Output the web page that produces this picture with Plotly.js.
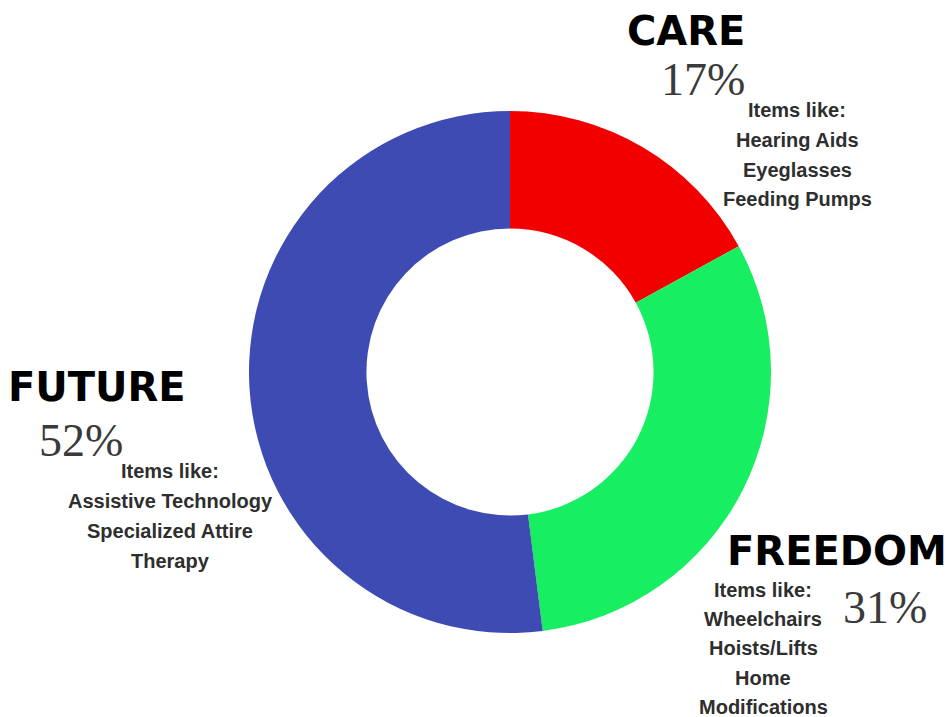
<!DOCTYPE html>
<html>
<head>
<meta charset="utf-8">
<script src="https://cdn.plot.ly/plotly-3.0.1.min.js"></script>
<style>html,body{margin:0;padding:0;background:#fff;}#chart{width:948px;height:717px;}</style>
</head>
<body>
<div id="chart"></div>
<script>
// Data
const categories = ["CARE", "FREEDOM", "FUTURE"];
const shares = [17, 31, 52];
const sliceColors = ["#F20000", "#17EE62", "#3D4BB3"];
const pctLabels = ["17%", "31%", "52%"];
const careItems = ["Items like:", "Hearing Aids", "Eyeglasses", "Feeding Pumps"];
const freedomItems = ["Items like:", "Wheelchairs", "Hoists/Lifts", "Home", "Modifications"];
const futureItems = ["Items like:", "Assistive Technology", "Specialized Attire", "Therapy"];

const W = 948, H = 717;
const px = x => x / W;
const py = y => 1 - y / H;

// layout positions (pixels)
const cx = 510, cy = 372, R = 261;
const headPos = {CARE: [686, 31], FREEDOM: [837, 551], FUTURE: [97, 387]};
const pctPos = {CARE: [703, 80], FREEDOM: [885, 607], FUTURE: [81, 440]};
const itemPos = {CARE: [797, 110], FREEDOM: [763, 590], FUTURE: [170, 471]};
const itemGap = {CARE: 29.8, FREEDOM: 29.2, FUTURE: 30};
const itemLists = {CARE: careItems, FREEDOM: freedomItems, FUTURE: futureItems};

const annotations = [];
categories.forEach((c, i) => {
  annotations.push({
    text: c, x: px(headPos[c][0]), y: py(headPos[c][1]), xref: "paper", yref: "paper",
    xanchor: "center", yanchor: "middle", showarrow: false,
    font: {family: "DejaVu Sans", size: 40, color: "#000", weight: 700}
  });
  annotations.push({
    text: pctLabels[i], x: px(pctPos[c][0]), y: py(pctPos[c][1]), xref: "paper", yref: "paper",
    xanchor: "center", yanchor: "middle", showarrow: false,
    font: {family: "Liberation Serif", size: 46, color: "#3a3a3a"}
  });
  itemLists[c].forEach((t, k) => {
    annotations.push({
      text: t, x: px(itemPos[c][0]), y: py(itemPos[c][1] + k * itemGap[c]), xref: "paper", yref: "paper",
      xanchor: "center", yanchor: "middle", showarrow: false,
      font: {family: "Liberation Sans", size: 20, color: "#2e2e2e", weight: 700}
    });
  });
});

const trace = {
  type: "pie",
  labels: categories,
  values: shares,
  marker: {colors: sliceColors, line: {width: 0}},
  hole: 0.55,
  sort: false,
  direction: "clockwise",
  rotation: 0,
  textinfo: "none",
  hoverinfo: "label+percent",
  domain: {x: [(cx - R) / W, (cx + R) / W], y: [(H - cy - R) / H, (H - cy + R) / H]}
};

Plotly.newPlot("chart", [trace], {
  width: W, height: H,
  margin: {l: 0, r: 0, t: 0, b: 0},
  paper_bgcolor: "#fff",
  showlegend: false,
  annotations: annotations
}, {displayModeBar: false, staticPlot: true});
</script>
</body>
</html>
